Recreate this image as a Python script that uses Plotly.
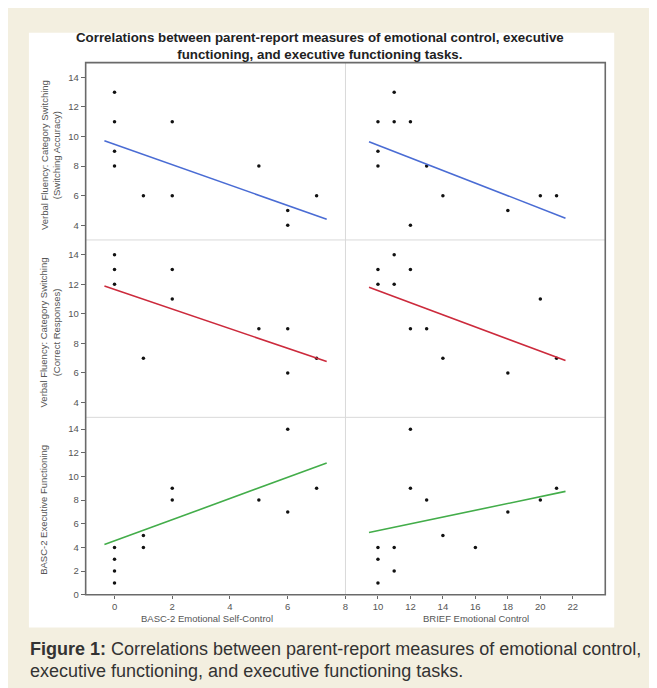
import plotly.graph_objects as go

# ---------------- data ----------------
row_titles = ["Verbal Fluency: Category Switching<br>(Switching Accuracy)",
              "Verbal Fluency: Category Switching<br>(Correct Responses)",
              "BASC-2 Executive Functioning"]
col_titles = ["BASC-2 Emotional Self-Control", "BRIEF Emotional Control"]

basc_sa_x = [0, 0, 2, 0, 0, 5, 1, 2, 7, 6, 6]
basc_sa_y = [13, 11, 11, 9, 8, 8, 6, 6, 6, 5, 4]
brief_sa_x = [11, 10, 11, 12, 10, 10, 13, 14, 20, 21, 18, 12]
brief_sa_y = [13, 11, 11, 11, 9, 8, 8, 6, 6, 6, 5, 4]

basc_cr_x = [0, 0, 2, 0, 2, 5, 6, 1, 7, 6]
basc_cr_y = [14, 13, 13, 12, 11, 9, 9, 7, 7, 6]
brief_cr_x = [11, 10, 12, 10, 11, 20, 12, 13, 14, 21, 18]
brief_cr_y = [14, 13, 13, 12, 12, 11, 9, 9, 7, 7, 6]

basc_ef_x = [0, 0, 0, 0, 1, 1, 2, 2, 5, 6, 6, 7]
basc_ef_y = [4, 3, 2, 1, 5, 4, 9, 8, 8, 14, 7, 9]
brief_ef_x = [12, 12, 13, 21, 20, 18, 14, 10, 11, 16, 10, 11, 10]
brief_ef_y = [14, 9, 8, 9, 8, 7, 5, 4, 4, 4, 3, 2, 1]

# fitted regression lines (row-major panel order)
fit_slope = [-0.689, -0.4275, -0.663, -0.409, 0.896, 0.2875]
fit_intercept = [9.47, 13.69, 11.65, 15.66, 4.55, 2.54]

x_ticks_left = [0, 2, 4, 6]
x_ticks_right = [8, 10, 12, 14, 16, 18, 20, 22]
y_ticks_top = [4, 6, 8, 10, 12, 14]
y_ticks_bottom = [0, 2, 4, 6, 8, 10, 12, 14]

panels = [(basc_sa_x, basc_sa_y), (brief_sa_x, brief_sa_y),
          (basc_cr_x, basc_cr_y), (brief_cr_x, brief_cr_y),
          (basc_ef_x, basc_ef_y), (brief_ef_x, brief_ef_y)]

# ---------------- styling / layout ----------------
W, H = 657, 688
line_colors = ["#4a6cd4", "#cc2a3c", "#43ad4a"]
x_ranges = [[-1, 8], [8, 24]]
y_ranges = [[3, 15], [3, 15], [0, 15]]

px_left, px_mid, px_right = 75, 336, 597
px_top, px_bottom = 55, 591

def fx(px):
    return px / W

def fy(py):
    return 1 - py / H

row_h = (px_bottom - px_top) / 3
col_dom = [[fx(px_left), fx(px_mid)], [fx(px_mid), fx(px_right)]]
row_dom = [[fy(px_top + (r + 1) * row_h), fy(px_top + r * row_h)] for r in range(3)]

fig = go.Figure()
layout = {}
FONT = "Arial, Liberation Sans, sans-serif"

for i, (xs, ys) in enumerate(panels):
    r, c = divmod(i, 2)
    k = i + 1
    xa = "x" if k == 1 else f"x{k}"
    ya = "y" if k == 1 else f"y{k}"
    fig.add_trace(go.Scatter(x=xs, y=ys, mode="markers", xaxis=xa, yaxis=ya,
                             marker=dict(color="#111111", size=3.5),
                             showlegend=False, hoverinfo="x+y"))
    lo, hi = min(xs), max(xs)
    pad = 0.05 * (hi - lo)
    lx = [lo - pad, hi + pad]
    ly = [fit_intercept[i] + fit_slope[i] * v for v in lx]
    fig.add_trace(go.Scatter(x=lx, y=ly, mode="lines", xaxis=xa, yaxis=ya,
                             line=dict(color=line_colors[r], width=1.6),
                             showlegend=False, hoverinfo="skip"))
    bottom = (r == 2)
    left = (c == 0)
    layout["xaxis" if k == 1 else f"xaxis{k}"] = dict(
        domain=col_dom[c], anchor=ya, range=x_ranges[c],
        showgrid=False, zeroline=False, showline=False,
        tickmode="array", tickvals=(x_ticks_left if c == 0 else x_ticks_right),
        showticklabels=bottom, ticks="outside" if bottom else "",
        ticklen=3, tickcolor="#666666", tickwidth=1,
        tickfont=dict(size=9.5, color="#555555", family=FONT))
    layout["yaxis" if k == 1 else f"yaxis{k}"] = dict(
        domain=row_dom[r], anchor=xa, range=y_ranges[r],
        showgrid=False, zeroline=False, showline=False,
        tickmode="array", tickvals=(y_ticks_bottom if r == 2 else y_ticks_top),
        showticklabels=left, ticks="outside" if left else "",
        ticklen=4, tickcolor="#666666", tickwidth=1,
        tickfont=dict(size=9.5, color="#555555", family=FONT))

shapes = [
    # white panel behind the chart
    dict(type="rect", xref="paper", yref="paper", x0=fx(18), x1=fx(606),
         y0=fy(624), y1=fy(25), fillcolor="white", line=dict(width=0), layer="below"),
    # inner dividers
    dict(type="line", xref="paper", yref="paper", x0=fx(px_mid), x1=fx(px_mid),
         y0=fy(px_bottom), y1=fy(px_top), line=dict(color="#d9d9d9", width=1)),
]
for r in range(1, 3):
    yy = fy(px_top + r * row_h)
    shapes.append(dict(type="line", xref="paper", yref="paper", x0=fx(px_left),
                       x1=fx(px_right), y0=yy, y1=yy,
                       line=dict(color="#d9d9d9", width=1)))
shapes.append(dict(type="rect", xref="paper", yref="paper", x0=fx(px_left),
                   x1=fx(px_right), y0=fy(px_bottom), y1=fy(px_top),
                   line=dict(color="#6a6a6a", width=1.6)))

annotations = [
    dict(text="<b>Correlations between parent-report measures of emotional control, executive<br>"
              "functioning, and executive functioning tasks.</b>",
         xref="paper", yref="paper", x=fx(310), y=fy(38), xanchor="center", yanchor="middle",
         showarrow=False, font=dict(size=13.3, color="#222222", family=FONT)),
    dict(text="<b>Figure 1:</b> Correlations between parent-report measures of emotional control,",
         xref="paper", yref="paper", x=fx(17), y=fy(646), xanchor="left", yanchor="middle",
         showarrow=False, font=dict(size=18, color="#333333", family=FONT)),
    dict(text="executive functioning, and executive functioning tasks.",
         xref="paper", yref="paper", x=fx(17), y=fy(668), xanchor="left", yanchor="middle",
         showarrow=False, font=dict(size=18, color="#333333", family=FONT)),
    dict(text=col_titles[0], xref="paper", yref="paper", x=fx(197), y=fy(615),
         xanchor="center", yanchor="middle", showarrow=False,
         font=dict(size=9.5, color="#555555", family=FONT)),
    dict(text=col_titles[1], xref="paper", yref="paper", x=fx(467), y=fy(615),
         xanchor="center", yanchor="middle", showarrow=False,
         font=dict(size=9.5, color="#555555", family=FONT)),
]
row_title_x = [39, 39, 33]
for r in range(3):
    cy = px_top + (r + 0.5) * row_h + 4
    annotations.append(dict(text=row_titles[r], xref="paper", yref="paper",
                            x=fx(row_title_x[r]), y=fy(cy), xanchor="center",
                            yanchor="middle", textangle=-90, showarrow=False,
                            font=dict(size=9.5, color="#555555", family=FONT)))

fig.update_layout(width=W, height=H, margin=dict(l=0, r=0, t=0, b=0),
                  paper_bgcolor="#f3efe0", plot_bgcolor="white",
                  shapes=shapes, annotations=annotations, **layout)

fig.write_html("out.html")
